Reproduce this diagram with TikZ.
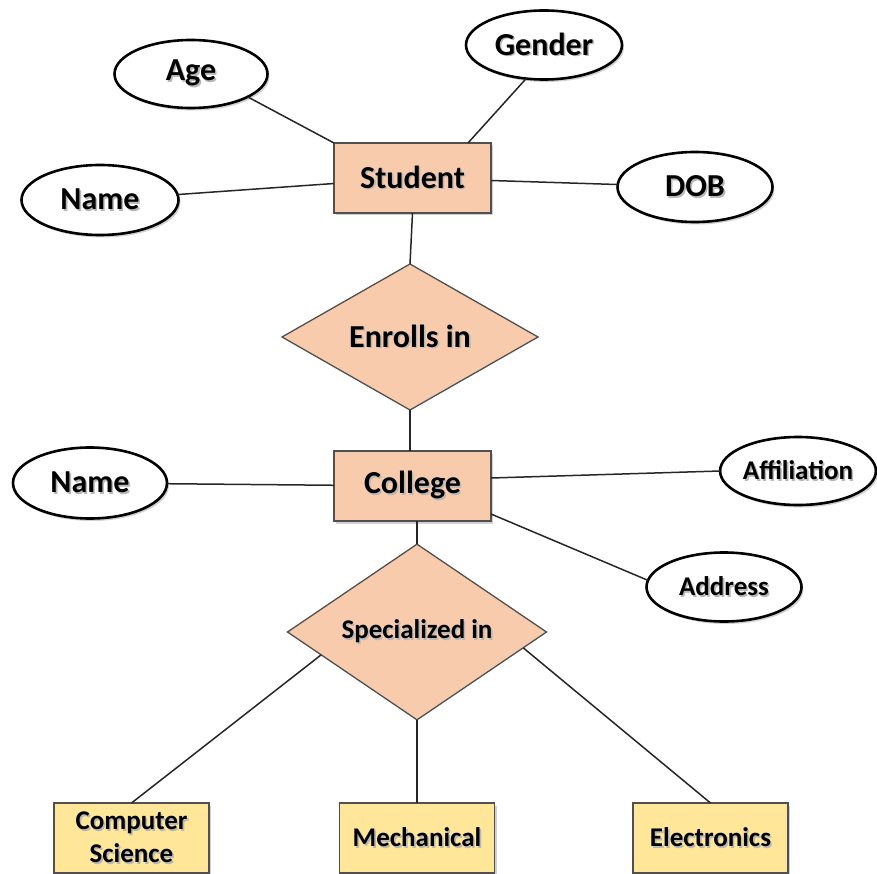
\documentclass[tikz,border=0pt]{standalone}
\usepackage{fontspec}
\setmainfont{Carlito}
\usetikzlibrary{shapes.geometric,shadows,calc}
\definecolor{peach}{HTML}{F8CBAD}
\definecolor{gold}{HTML}{FFE699}
\definecolor{boxedge}{HTML}{505050}
\definecolor{linkcol}{HTML}{262626}
% bold label with a soft offset shadow behind it
\newcommand\shtxt[1]{\rlap{\kern1.6pt\raisebox{-1.6pt}{\textcolor{black!28}{#1}}}#1}

\begin{document}
\begin{tikzpicture}[x=1pt,y=-1pt,
  bigfont/.style={font=\bfseries\fontsize{32}{35}\selectfont},
  smallfont/.style={font=\bfseries\fontsize{27}{33}\selectfont},
  softshadow/.style={drop shadow={shadow xshift=2pt,shadow yshift=-2.5pt,opacity=0.18,fill=black}},
  attr/.style={ellipse,draw=black,line width=2.6pt,fill=white,inner sep=0pt,outer sep=0pt,softshadow},
  entity/.style={rectangle,draw=boxedge,line width=1.6pt,fill=peach,inner sep=0pt,outer sep=0pt,
    minimum width=157pt,minimum height=70pt,softshadow,bigfont},
  relation/.style={diamond,draw=boxedge,line width=1.3pt,fill=peach,inner sep=0pt,outer sep=0pt},
  branch/.style={rectangle,draw=boxedge,line width=1.6pt,fill=gold,inner sep=0pt,outer sep=0pt,
    minimum width=155pt,minimum height=70pt,softshadow,smallfont,align=center},
  link/.style={draw=linkcol,line width=1.5pt}]

\path[use as bounding box] (0,0) rectangle (877,874);

% attributes of Student
\node[attr,bigfont,minimum width=153pt,minimum height=68pt] (age) at (191,74) {\shtxt{Age}};
\node[attr,bigfont,minimum width=156pt,minimum height=69pt] (gender) at (544,45) {\shtxt{Gender}};
\node[attr,bigfont,minimum width=157pt,minimum height=70pt] (sname) at (100,200) {\shtxt{Name}};
\node[attr,bigfont,minimum width=155pt,minimum height=70pt] (dob) at (695,187) {\shtxt{DOB}};

% entities and relationships
\node[entity] (student) at (412.5,178) {\shtxt{Student}};
\node[relation,minimum width=256pt,minimum height=134pt,bigfont] (enrolls) at (410,337) {\shtxt{Enrolls in}};
\node[entity] (college) at (412.5,486) {\shtxt{College}};
\node[relation,minimum width=259pt,minimum height=135pt,smallfont] (spec) at (417,632) {\shtxt{Specialized in}};

% attributes of College
\node[attr,bigfont,minimum width=154pt,minimum height=71pt] (cname) at (90,483) {\shtxt{Name}};
\node[attr,smallfont,minimum width=148pt,minimum height=68pt] (affil) at (798,471) {\shtxt{Affiliation}};
\node[attr,smallfont,minimum width=155pt,minimum height=69pt] (address) at (724,587) {\shtxt{Address}};

% branches
\node[branch] (cs) at (131.5,838) {\shtxt{Computer}\\\shtxt{Science}};
\node[branch] (mech) at (417,838) {\shtxt{Mechanical}};
\node[branch] (elec) at (710.5,838) {\shtxt{Electronics}};

% connectors
\path[link] (age.-22) -- (student.north west);
\path[link] (gender.-118) -- ([xshift=-23pt]student.north east);
\path[link] (sname) -- (student);
\path[link] (dob) -- (student);
\path[link] (student.south) -- (enrolls.north);
\path[link] (enrolls.south) -- (college.north -| enrolls.south);
\path[link] (cname) -- (college);
\path[link] ([yshift=8pt]college.east) -- (affil.west);
\path[link] ([yshift=7pt]college.south east) -- (address.175);
\path[link] (spec.north) -- (spec.north |- college.south);
\path[link] ($(spec.west)!0.26!(spec.south)$) -- (cs.north);
\path[link] (spec.south) -- (mech.north);
\path[link] ($(spec.east)!0.18!(spec.south)$) -- (elec.north);
\end{tikzpicture}
\end{document}
